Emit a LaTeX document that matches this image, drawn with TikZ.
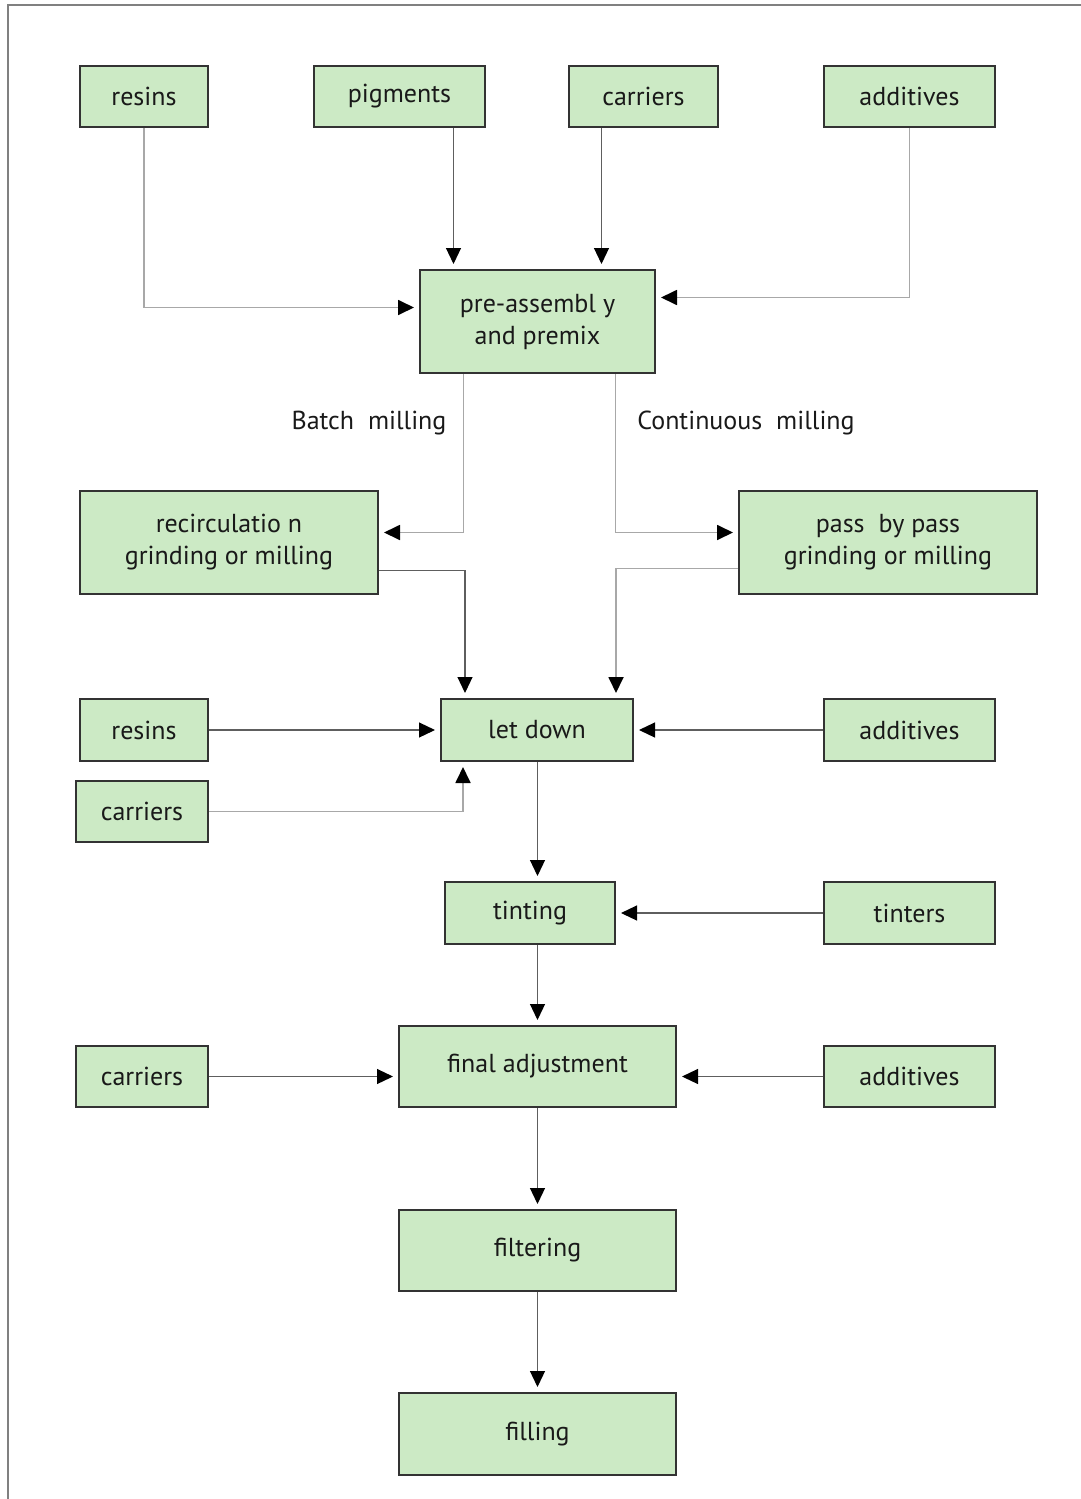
\documentclass[tikz,border=0pt]{standalone}
\usepackage{fontspec}
\setmainfont{PT Sans}
\usepackage{tikz}
\usetikzlibrary{arrows.meta,positioning,calc}
\definecolor{boxgreen}{HTML}{CCEAC5}
\definecolor{boxline}{HTML}{333333}
\definecolor{darkline}{HTML}{5E5E5E}
\definecolor{liteline}{HTML}{A8A8A8}

\begin{document}
\begin{tikzpicture}[x = .5pt, y = -.5pt,
  every node/.style = {text = black!90, font = \fontsize{13}{16}\selectfont},
  box/.style = {draw = boxline, line width = 1pt, fill = boxgreen, inner sep = 0pt, align = center},
  dk/.style = {draw = darkline, line width = .6pt, -{Triangle[length=8pt, width=7.5pt, black]}, shorten > = 2.5pt},
  lt/.style = {dk, draw = liteline, line width = .9pt}]
\useasboundingbox (0,0) rectangle (1081,1499);
\draw[gray, line width = .7pt] (1081,5) -- (8,5) -- (8,1499);

\node[box, minimum width = 64pt, minimum height = 30.5pt] (res) at (144, 96.5) {resins};
\node[box, minimum width = 85.5pt, minimum height = 30.5pt] (pig) at (399.5, 96.5) {pigments};
\node[box, minimum width = 74.5pt, minimum height = 30.5pt] (car) at (643.5, 96.5) {carriers};
\node[box, minimum width = 85.5pt, minimum height = 30.5pt] (add) at (909.5, 96.5) {additives};

\node[box, minimum width = 117.5pt, minimum height = 51.5pt] (pre) at (537.5, 321.5) {pre-assembl y\\and premix};

\node (batch) at (369, 423) {Batch\ \ milling};
\node (cont) at (746, 423) {Continuous\ \ milling};

\node[box, minimum width = 149pt, minimum height = 51.5pt] (rec) at (229, 542.5) {recirculatio n\\grinding or milling};
\node[box, minimum width = 149pt, minimum height = 51.5pt] (pass) at (888, 542.5) {pass\ \ by pass\\grinding or milling};

\node[box, minimum width = 96pt, minimum height = 31pt] (let) at (537, 730) {let down};
\node[box, minimum width = 64pt, minimum height = 31pt] (res1) at (144, 730) {resins};
\node[box, minimum width = 66pt, minimum height = 30.5pt] (car1) at (142, 811.5) {carriers};
\node[box, minimum width = 85.5pt, minimum height = 31pt] (add1) at (909.5, 730) {additives};

\node[box, minimum width = 85pt, minimum height = 31pt] (tint) at (530, 913) {tinting};
\node[box, minimum width = 85.5pt, minimum height = 31pt] (tnt) at (909.5, 913) {tinters};

\node[box, minimum width = 138.5pt, minimum height = 40.5pt] (fin) at (537.5, 1066.5) {final adjustment};
\node[box, minimum width = 66pt, minimum height = 30.5pt] (car2) at (142, 1076.5) {carriers};
\node[box, minimum width = 85.5pt, minimum height = 30.5pt] (add2) at (909.5, 1076.5) {additives};

\node[box, minimum width = 138.5pt, minimum height = 40.5pt] (filt) at (537.5, 1250.5) {filtering};
\node[box, minimum width = 138.5pt, minimum height = 41pt] (fill) at (537.5, 1434) {filling};

% raw materials into premix
\draw[lt] (res) |- ([yshift=7pt]pre.west);
\draw[dk] ([xshift=-42pt]pre.north |- pig.south) -- ([xshift=-42pt]pre.north);
\draw[dk] ([xshift=32pt]pre.north |- car.south) -- ([xshift=32pt]pre.north);
\draw[lt] (add) |- ([yshift=12pt]pre.east);

% milling
\draw[lt] ([xshift=-37pt]pre.south) |- ([yshift=5pt]rec.east);
\draw[lt] ([xshift=39pt]pre.south) |- ([yshift=5pt]pass.west);
\draw[dk] ([yshift=-14pt]rec.east) -| ([xshift=-36pt]let.north);
\draw[lt] ([yshift=-13pt]pass.west) -| ([xshift=39.5pt]let.north);

% let down
\draw[dk] (res1) -- (let);
\draw[lt] (car1) -| ([xshift=-37pt]let.south);
\draw[dk] (add1) -- (let);

\draw[dk] (fin.north |- let.south) -- (fin.north |- tint.north);
\draw[dk] (tnt) -- (tint);
\draw[dk] (fin.north |- tint.south) -- (fin.north);

\draw[dk] (car2) -- (car2 -| fin.west);
\draw[dk] (add2) -- (add2 -| fin.east);

\draw[dk] (fin) -- (filt);
\draw[dk] (filt) -- (fill);

\end{tikzpicture}
\end{document}
